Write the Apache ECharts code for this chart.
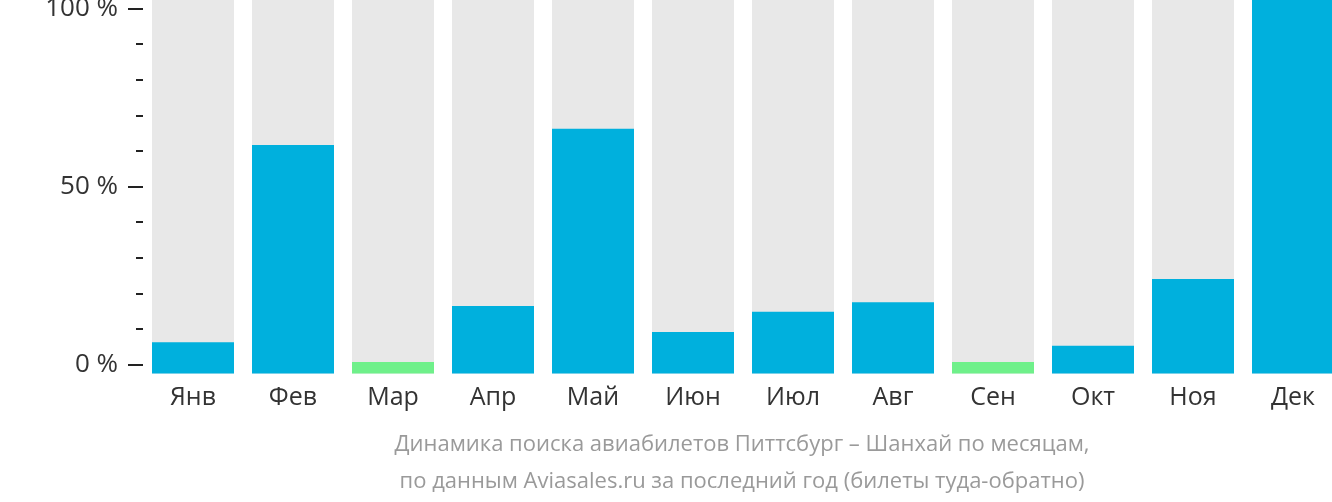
<!DOCTYPE html>
<html>
<head>
<meta charset="utf-8">
<script src="https://cdn.jsdelivr.net/npm/echarts@6/dist/echarts.min.js"></script>
<style>
html,body{margin:0;padding:0;background:#fff;}
#chart{width:1332px;height:502px;}
</style>
</head>
<body>
<div id="chart"></div>
<script>
const months = ['Янв','Фев','Мар','Апр','Май','Июн','Июл','Авг','Сен','Окт','Ноя','Дек'];
const values = [8.4, 61.2, 3.1, 18.1, 65.5, 11.1, 16.5, 19.1, 3.1, 7.4, 25.3, 100];
const lowMonths = ['Мар','Сен'];
const tickLabels = ['0 %', '50 %', '100 %'];
const subtitleLines = ['Динамика поиска авиабилетов Питтсбург – Шанхай по месяцам,', 'по данным Aviasales.ru за последний год (билеты туда-обратно)'];

const BLUE = '#00b0dd', GREEN = '#6ff08a', BG = '#e8e8e8';
const font = '"Open Sans", "Noto Sans", sans-serif';

const chart = echarts.init(document.getElementById('chart'), null, {renderer: 'canvas'});
chart.setOption({
  animation: false,
  textStyle: {fontFamily: font},
  title: {
    text: subtitleLines.join('\n'),
    left: 737, top: 421, textAlign: 'center',
    textStyle: {color: '#9a9a9a', fontSize: 22, fontWeight: 'normal', lineHeight: 37, fontFamily: font}
  },
  grid: [
    {left: 143, width: 1200, top: 0, height: 373.5, outerBoundsMode: 'none', containLabel: false},
    {left: 143, width: 1200, top: 8.5, height: 356, outerBoundsMode: 'none', containLabel: false}
  ],
  xAxis: [
    {type: 'category', gridIndex: 0, data: months,
     axisLine: {show: false}, axisTick: {show: false},
     axisLabel: {color: '#333', fontSize: 25, margin: 12, fontFamily: font}},
    {type: 'category', gridIndex: 1, data: months, show: false}
  ],
  yAxis: [
    {type: 'value', gridIndex: 0, min: 0, max: 100, show: false},
    {type: 'value', gridIndex: 1, position: 'left', min: 0, max: 100, interval: 10,
     axisLine: {show: false}, splitLine: {show: false},
     axisTick: {show: true, length: 7, lineStyle: {color: '#222', width: 2}},
     axisLabel: {show: false}},
    {type: 'value', gridIndex: 1, position: 'left', offset: 0, min: 0, max: 100, interval: 50,
     axisLine: {show: false}, splitLine: {show: false},
     axisTick: {show: true, length: 15, lineStyle: {color: '#222', width: 2}},
     axisLabel: {color: '#333', fontSize: 26, margin: 25, fontFamily: font,
       formatter: v => tickLabels[v / 50]}}
  ],
  series: [{
    type: 'bar', xAxisIndex: 0, yAxisIndex: 0,
    barCategoryGap: '18%',
    showBackground: true,
    backgroundStyle: {color: BG},
    data: values.map((v, i) => ({value: v, itemStyle: {color: lowMonths.includes(months[i]) ? GREEN : BLUE}}))
  }]
});
</script>
</body>
</html>
